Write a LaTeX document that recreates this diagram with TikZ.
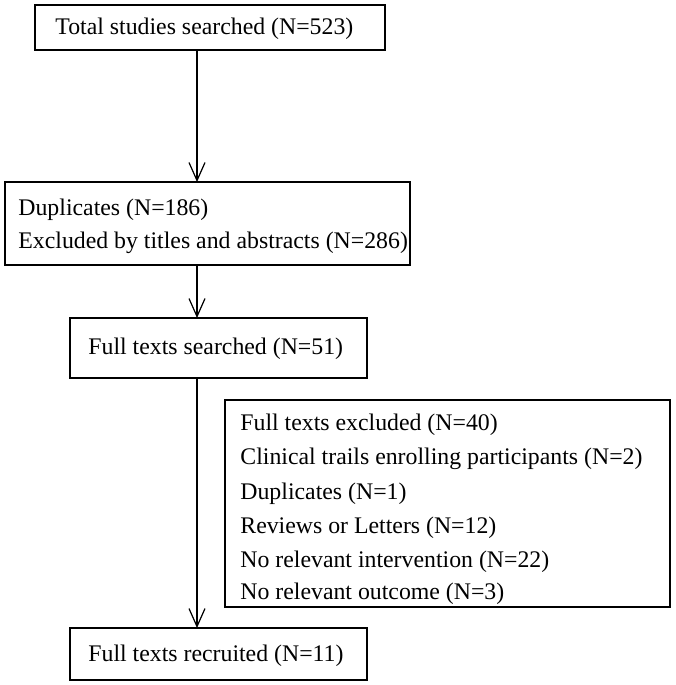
\documentclass[tikz,border=0pt]{standalone}
\usepackage{fontspec}
\setmainfont{Liberation Serif}
\usetikzlibrary{arrows.meta}
\begin{document}
\begin{tikzpicture}[x=0.5pt,y=-0.5pt,
  box/.style={draw,line width=0.8pt},
  txt/.style={anchor=west,inner sep=0pt,font=\fontsize{11.9}{14}\selectfont},
  arr/.style={draw,line width=0.6pt,-{Straight Barb[length=9pt,width=8pt]}}]
\useasboundingbox (0,0) rectangle (675,685);
\draw[box] (35,5) rectangle (385,50);
\node[txt] (t1) at (55,29) {Total studies searched (N=523)};
\draw[box] (5,182) rectangle (410,265);
\node[txt] (t2a) at (18,210) {Duplicates (N=186)};
\node[txt] (t2b) at (18,243) {Excluded by titles and abstracts (N=286)};
\draw[box] (70,318) rectangle (367,378);
\node[txt] (t3) at (88,349) {Full texts searched (N=51)};
\draw[box] (225,400) rectangle (670,607);
\node[txt] at (240,425) {Full texts excluded (N=40)};
\node[txt] at (240,459) {Clinical trails enrolling participants (N=2)};
\node[txt] at (240,494) {Duplicates (N=1)};
\node[txt] at (240,528) {Reviews or Letters (N=12)};
\node[txt] at (240,562) {No relevant intervention (N=22)};
\node[txt] at (240,594) {No relevant outcome (N=3)};
\draw[box] (70,628) rectangle (367,680);
\node[txt] (t5) at (88,656) {Full texts recruited (N=11)};
\coordinate (a1) at (197,50); \coordinate (b1) at (197,182);
\coordinate (a2) at (197,265); \coordinate (b2) at (197,318);
\coordinate (a3) at (197,378); \coordinate (b3) at (197,628);
\draw[arr] (a1) -- (b1);
\draw[arr] (a2) -- (b2);
\draw[arr] (a3) -- (b3);
\end{tikzpicture}
\end{document}
